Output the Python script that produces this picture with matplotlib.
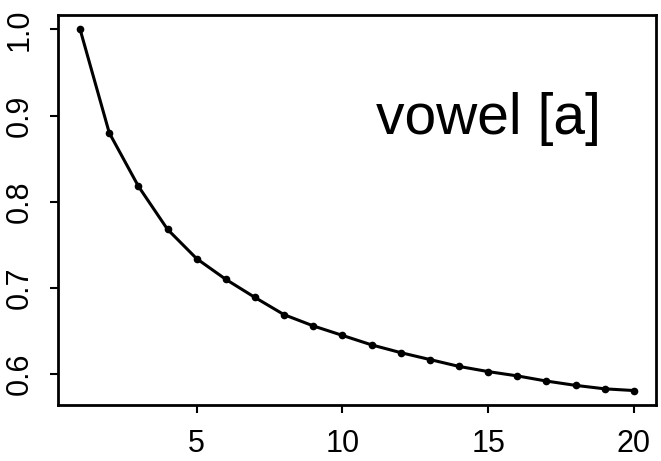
# decay curve for vowel [a], R-style base plot
import matplotlib
matplotlib.use("Agg")
import matplotlib.pyplot as plt

lags = list(range(1, 21))
vals = [1.000, 0.880, 0.818, 0.768, 0.734, 0.710, 0.689, 0.669, 0.656, 0.645,
        0.634, 0.625, 0.617, 0.609, 0.603, 0.598, 0.592, 0.587, 0.583, 0.581]
xticks = [5, 10, 15, 20]
yticks = [0.6, 0.7, 0.8, 0.9, 1.0]
label = "vowel [a]"

plt.rcParams['font.family'] = ['Liberation Sans', 'DejaVu Sans']

fig = plt.figure(figsize=(6.61, 4.61), dpi=100)
ax = fig.add_axes([0.0877, 0.1215, 0.9047, 0.846])

ax.plot(lags, vals, color='black', linewidth=2.2, marker='o', markersize=4.5)

# R pads the range by 4% on each side
xr = max(lags) - min(lags)
yr = max(vals) - min(vals)
ax.set_xlim(min(lags) - 0.04 * xr, max(lags) + 0.04 * xr)
ax.set_ylim(min(vals) - 0.04 * yr, max(vals) + 0.04 * yr)

ax.set_xticks(xticks)
ax.set_xticklabels([str(t) for t in xticks])
ax.set_yticks(yticks)
ax.set_yticklabels(["%.1f" % t for t in yticks], rotation=90, va='center')

ax.tick_params(axis='both', direction='out', length=6, width=1.5, labelsize=22)
ax.tick_params(axis='x', pad=11)
ax.tick_params(axis='y', pad=11)
for s in ax.spines.values():
    s.set_linewidth(2.0)

ax.text(15, 0.879, label, fontsize=41, ha='center', va='baseline')

fig.savefig("out.png", dpi=100)
